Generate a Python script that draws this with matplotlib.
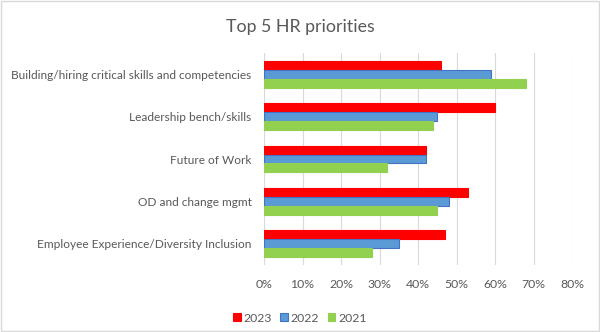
import matplotlib
matplotlib.use("Agg")
import matplotlib.pyplot as plt
import numpy as np
from matplotlib.patches import Rectangle

categories = ["Building/hiring critical skills and competencies",
              "Leadership bench/skills",
              "Future of Work",
              "OD and change mgmt",
              "Employee Experience/Diversity Inclusion"]
series_names = ["2023", "2022", "2021"]
v2023 = [46, 60, 42, 53, 47]
v2022 = [59, 45, 42, 48, 35]
v2021 = [68, 44, 32, 45, 28]
xticks = [0, 10, 20, 30, 40, 50, 60, 70, 80]

colors = ["#FF0000", "#5B9BD5", "#92D050"]
edges = ["#FF0000", "#4472C4", "#92D050"]

plt.rcParams['font.family'] = ['Lato', 'DejaVu Sans']
fig = plt.figure(figsize=(6, 3.32), dpi=100)
ax = fig.add_axes([264/600, 1-265/332, (572-264)/600, (265-53)/332])

n = len(categories)
y = np.arange(n)
h = 0.212
for i, (vals, c, e, name) in enumerate(zip([v2023, v2022, v2021], colors, edges, series_names)):
    ax.barh(y + (i - 1) * h, vals, height=h, color=c, edgecolor=e, linewidth=0.8, label=name)

ax.set_ylim(n - 0.5, -0.5)
ax.set_xlim(0, 80)
ax.set_xticks(xticks)
ax.set_xticklabels([f"{t}%" for t in xticks], color="#595959", fontsize=8.8)
ax.set_yticks(y)
ax.set_yticklabels(categories, color="#595959", fontsize=8.6)
ax.tick_params(axis='both', length=0)
ax.tick_params(axis='x', pad=10)
ax.tick_params(axis='y', pad=9)
ax.grid(axis='x', color="#D9D9D9", linewidth=0.8)
ax.set_axisbelow(True)
for s in ax.spines.values():
    s.set_visible(False)

fig.text(0.5, 1-27/332, "Top 5 HR priorities", ha='center', va='center', fontsize=12.8, color="#595959")

leg = fig.legend(loc='center', bbox_to_anchor=(0.5, 1-318/332), ncol=3, frameon=False,
                 fontsize=8.8, handlelength=0.6, handleheight=0.6, handletextpad=0.25, columnspacing=0.7)
for t in leg.get_texts():
    t.set_color("#595959")

fig.patches.append(Rectangle((0.002, 0.003), 0.996, 0.994, transform=fig.transFigure,
                             fill=False, edgecolor="#D9D9D9", linewidth=1))
fig.savefig("out.png", dpi=100, facecolor="white")
